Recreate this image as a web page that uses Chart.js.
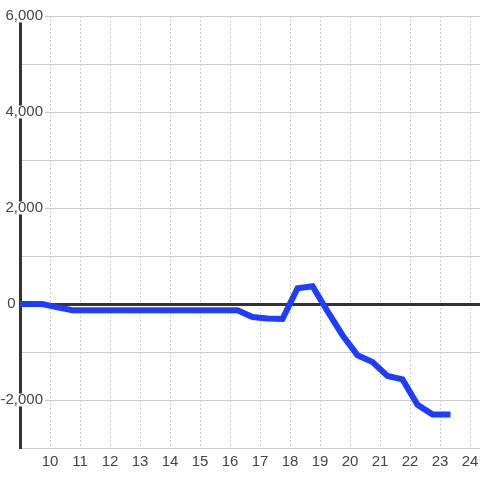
<!DOCTYPE html>
<html>
<head>
<meta charset="utf-8">
<script src="https://cdn.jsdelivr.net/npm/chart.js@4"></script>
<style>
  html, body { margin: 0; padding: 0; background: #fff; }
  #wrap { width: 480px; height: 480px; }
</style>
</head>
<body>
<div id="wrap"><canvas id="chart"></canvas></div>
<script>
"use strict";

// x positions (hours) and the plotted values
const hours = [9, 9.75, 10.25, 10.75, 11.25, 11.75, 12.25, 12.75, 13.25, 13.75,
  14.25, 14.75, 15.25, 15.75, 16.25, 16.75, 17.25, 17.75, 18.25, 18.75,
  19.25, 19.75, 20.25, 20.75, 21.25, 21.75, 22.25, 22.75, 23.25];
const values = [0, 0, -70, -130, -130, -130, -130, -130, -130, -130,
  -130, -130, -130, -130, -130, -270, -300, -310, 330, 370,
  -150, -650, -1070, -1210, -1500, -1570, -2100, -2300, -2300];

const xMin = 9, xMax = 24.333;
const yMin = -3000, yMax = 6000;
const yLabelValues = [6000, 4000, 2000, 0, -2000];

const FONT = "'Liberation Sans', Arial, sans-serif";

function yLabel(v) {
  if (!yLabelValues.includes(v)) return "";
  // the zero label sits left of the axis in the original
  if (v === 0) return "0      \u200A\u200A";
  return v.toLocaleString("en-US");
}

const points = hours.map((h, i) => ({ x: h, y: values[i] }));

new Chart(document.getElementById("chart"), {
  type: "line",
  data: {
    datasets: [{
      data: points,
      borderColor: "#1f3dff",
      borderWidth: 6,
      borderCapStyle: "square",
      pointRadius: 0,
      tension: 0
    }]
  },
  options: {
    responsive: true,
    maintainAspectRatio: false,
    animation: false,
    layout: { padding: { top: 16, left: 0, right: 0, bottom: 0 } },
    plugins: { legend: { display: false }, tooltip: { enabled: false } },
    scales: {
      x: {
        type: "linear",
        min: xMin,
        max: xMax,
        afterBuildTicks: s => { s.ticks = s.ticks.filter(t => t.value >= 10); },
        afterFit: s => { s.height = 32; s.paddingLeft = 0; s.paddingRight = 0; },
        grid: { color: "#cccccc", lineWidth: 1, drawTicks: false },
        border: { display: false, dash: [2, 2] },
        ticks: {
          stepSize: 1,
          includeBounds: false,
          padding: 7,
          color: "#444",
          font: { family: FONT, size: 15, lineHeight: "14px" },
          maxRotation: 0
        }
      },
      y: {
        min: yMin,
        max: yMax,
        afterFit: s => { s.width = 20; },
        grid: {
          drawTicks: false,
          color: c => c.tick && c.tick.value === 0 ? "#333" : "#cccccc",
          lineWidth: c => c.tick && c.tick.value === 0 ? 3 : 1
        },
        border: { color: "#333", width: 3 },
        ticks: {
          stepSize: 1000,
          mirror: true,
          crossAlign: "far",
          padding: -19.5,
          color: "#444",
          font: { family: FONT, size: 15, lineHeight: "13px" },
          callback: v => yLabel(v),
          showLabelBackdrop: c => yLabelValues.includes(c.tick.value) && c.tick.value !== 0,
          backdropColor: "#fff",
          backdropPadding: { left: 2, right: 2, top: 0, bottom: 0 }
        }
      }
    }
  }
});
</script>
</body>
</html>
